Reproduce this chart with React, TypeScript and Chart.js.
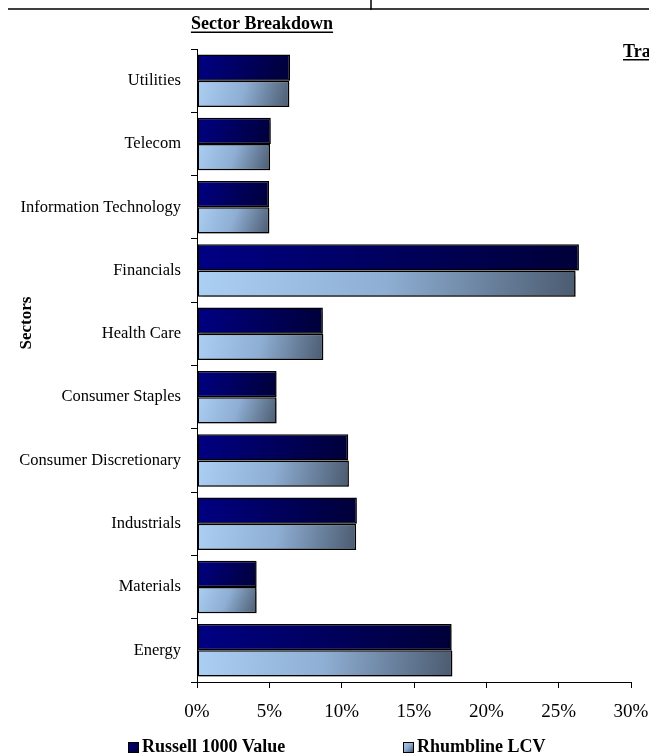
import React, { useEffect, useRef } from "react";
import { Chart, registerables } from "chart.js";

Chart.register(...registerables);

const sectors = [
  "Utilities",
  "Telecom",
  "Information Technology",
  "Financials",
  "Health Care",
  "Consumer Staples",
  "Consumer Discretionary",
  "Industrials",
  "Materials",
  "Energy",
];
const russell1000Value = [6.43, 5.1, 4.98, 26.4, 8.7, 5.5, 10.45, 11.05, 4.12, 17.6];
const rhumblineLCV = [6.38, 5.05, 5.0, 26.17, 8.73, 5.5, 10.5, 11.0, 4.12, 17.65];
const xTicks = [0, 5, 10, 15, 20, 25, 30];
const seriesNames = ["Russell 1000 Value", "Rhumbline LCV"];

const SERIF = "'Times New Roman', 'Liberation Serif', serif";
const CAT_PCT = 0.83;

function makeGrad(ctx: any, stops: [number, string][]) {
  const chart = ctx.chart;
  const fallback = stops[0][1];
  if (ctx.type !== "data") return fallback;
  const xs = chart.scales.x;
  const ys = chart.scales.y;
  if (!xs || !ys || !ys.height) return fallback;
  const x0 = xs.getPixelForValue(0);
  const x1 = xs.getPixelForValue(ctx.raw);
  const catH = ys.height / sectors.length;
  const h = (catH * CAT_PCT) / 2;
  const yc = ys.getPixelForValue(ctx.dataIndex);
  const top = yc - h + ctx.datasetIndex * h;
  if (![x0, x1, top, h].every(isFinite)) return fallback;
  const g = chart.ctx.createLinearGradient(x0, top, x1, top + h);
  stops.forEach(([o, c]) => g.addColorStop(o, c));
  return g;
}

const navyStops: [number, string][] = [
  [0, "#000084"],
  [1, "#000038"],
];
const lightStops: [number, string][] = [
  [0, "#accff4"],
  [0.5, "#8eaed3"],
  [1, "#4b5b70"],
];

const decorPlugin = {
  id: "decor",
  beforeDatasetsDraw(chart: any) {
    const c = chart.ctx;
    c.save();
    c.shadowColor = "rgba(0,0,0,0.25)";
    c.shadowOffsetX = 1.5;
    c.shadowOffsetY = 1.5;
    c.shadowBlur = 1;
  },
  afterDatasetsDraw(chart: any) {
    chart.ctx.restore();
  },
  afterDraw(chart: any) {
    const c = chart.ctx;
    c.save();
    // top frame lines
    c.strokeStyle = "#000";
    c.lineWidth = 1.5;
    c.beginPath();
    c.moveTo(8, 9);
    c.lineTo(649, 9);
    c.moveTo(371, 0);
    c.lineTo(371, 10);
    c.stroke();

    // title
    c.fillStyle = "#000";
    c.font = `bold 18px ${SERIF}`;
    c.textAlign = "center";
    c.textBaseline = "alphabetic";
    const title = "Sector Breakdown";
    const tw = c.measureText(title).width;
    c.fillText(title, 262, 29);
    c.fillRect(262 - tw / 2, 31.5, tw, 1.5);

    // neighbouring title (clipped)
    c.textAlign = "left";
    const t2 = "Trailing Returns";
    c.fillText(t2, 623, 57);
    c.fillRect(623, 59, c.measureText(t2).width, 1.5);

    // y axis title
    c.save();
    c.translate(27, 323);
    c.rotate(-Math.PI / 2);
    c.font = `bold 17px ${SERIF}`;
    c.textAlign = "center";
    c.textBaseline = "middle";
    c.fillText("Sectors", 0, 0);
    c.restore();

    // legend
    const items = [
      { x: 128, label: seriesNames[0], stops: navyStops },
      { x: 403, label: seriesNames[1], stops: lightStops },
    ];
    items.forEach((it) => {
      const g = c.createLinearGradient(it.x, 742, it.x + 10, 752);
      it.stops.forEach(([o, col]) => g.addColorStop(o, col));
      c.fillStyle = g;
      c.fillRect(it.x, 742, 10, 10);
      c.strokeStyle = "#000";
      c.lineWidth = 1;
      c.strokeRect(it.x + 0.5, 742.5, 10, 10);
      c.fillStyle = "#000";
      c.font = `bold 18px ${SERIF}`;
      c.textAlign = "left";
      c.textBaseline = "alphabetic";
      c.fillText(it.label, it.x + 14, 752);
    });
    c.restore();
  },
};

export default function App() {
  const ref = useRef<HTMLCanvasElement | null>(null);
  useEffect(() => {
    if (!ref.current) return;
    const chart = new Chart(ref.current, {
      type: "bar",
      data: {
        labels: sectors,
        datasets: [
          {
            label: seriesNames[0],
            data: russell1000Value,
            backgroundColor: (ctx: any) => makeGrad(ctx, navyStops),
            borderColor: "#000",
            borderWidth: 1.5,
            borderSkipped: false,
            categoryPercentage: CAT_PCT,
            barPercentage: 1,
          },
          {
            label: seriesNames[1],
            data: rhumblineLCV,
            backgroundColor: (ctx: any) => makeGrad(ctx, lightStops),
            borderColor: "#000",
            borderWidth: 1.5,
            borderSkipped: false,
            categoryPercentage: CAT_PCT,
            barPercentage: 1,
          },
        ],
      },
      options: {
        indexAxis: "y",
        responsive: false,
        animation: false,
        devicePixelRatio: 1,
        layout: { padding: { top: 49, right: 18, left: 0, bottom: 0 } },
        plugins: {
          legend: { display: false },
          title: { display: false },
          tooltip: { enabled: false },
        },
        scales: {
          x: {
            type: "linear",
            min: 0,
            max: 30,
            afterBuildTicks: (s: any) => {
              s.ticks = xTicks.map((v) => ({ value: v }));
            },
            afterFit: (s: any) => {
              s.height = 73;
              s.paddingRight = 0;
              s.paddingLeft = 0;
            },
            grid: {
              drawOnChartArea: false,
              drawTicks: true,
              tickLength: 6,
              color: "#000",
            },
            border: { color: "#000", width: 1 },
            ticks: {
              color: "#000",
              font: { family: SERIF, size: 19 },
              padding: 13,
              maxRotation: 0,
              callback: (v: any) => `${v}%`,
            },
          },
          y: {
            type: "category",
            offset: true,
            afterFit: (s: any) => {
              s.width = 197;
              s.paddingTop = 0;
              s.paddingBottom = 0;
            },
            grid: {
              offset: true,
              drawOnChartArea: false,
              drawTicks: true,
              tickLength: 6,
              color: "#000",
            },
            border: { color: "#000", width: 1 },
            ticks: {
              color: "#000",
              font: { family: SERIF, size: 16.5 },
              padding: 10,
            },
          },
        },
      },
      plugins: [decorPlugin],
    } as any);
    return () => chart.destroy();
  }, []);
  return (
    <div style={{ position: "absolute", left: 0, top: 0, width: 649, height: 755, background: "#fff" }}>
      <canvas ref={ref} width={649} height={755} style={{ display: "block" }} />
    </div>
  );
}
